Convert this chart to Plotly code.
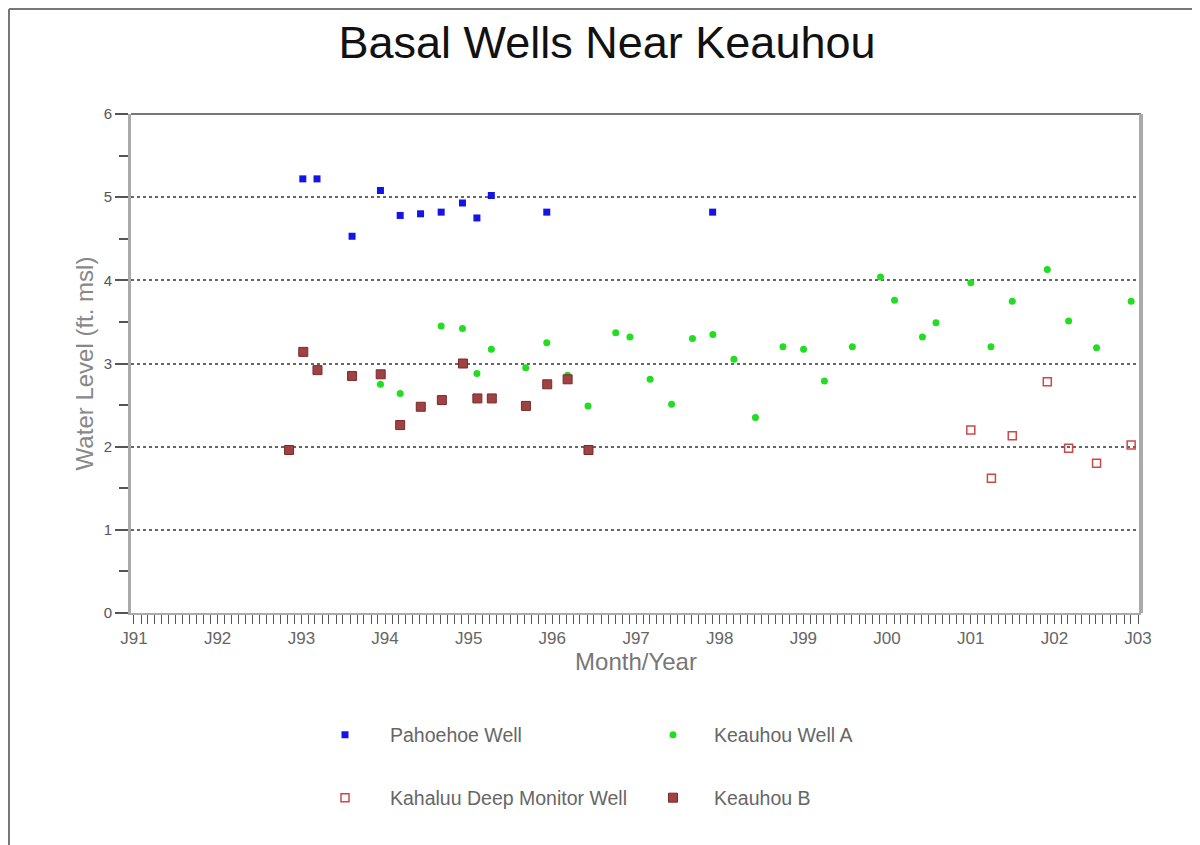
import plotly.graph_objects as go

# ---------------- data ----------------
pahoehoe_dates = ["1993-01-07", "1993-03-10", "1993-08-10", "1993-12-12", "1994-03-08",
                  "1994-06-05", "1994-09-03", "1994-12-05", "1995-02-06", "1995-04-10",
                  "1995-12-08", "1997-12-01"]
pahoehoe_levels = [5.22, 5.22, 4.53, 5.08, 4.78, 4.80, 4.82, 4.93, 4.75, 5.02, 4.82, 4.82]

wellA_dates = ["1993-12-12", "1994-03-08", "1994-09-03", "1994-12-05", "1995-02-06",
               "1995-04-10", "1995-09-07", "1995-12-08", "1996-03-08", "1996-06-05",
               "1996-10-04", "1996-12-05", "1997-03-03", "1997-06-05", "1997-09-04",
               "1997-12-02", "1998-03-04", "1998-06-06", "1998-10-04", "1999-01-02",
               "1999-04-03", "1999-08-03", "1999-12-04", "2000-02-03", "2000-06-04",
               "2000-08-02", "2001-01-01", "2001-03-30", "2001-07-01", "2001-12-01",
               "2002-03-04", "2002-07-04", "2002-12-02"]
wellA_levels = [2.75, 2.64, 3.45, 3.42, 2.88, 3.17, 2.95, 3.25, 2.86, 2.49,
                3.37, 3.32, 2.81, 2.51, 3.30, 3.35, 3.05, 2.35, 3.20, 3.17,
                2.79, 3.20, 4.04, 3.76, 3.32, 3.49, 3.97, 3.20, 3.75, 4.13,
                3.51, 3.19, 3.75]

kahaluu_dates = ["2001-01-01", "2001-04-01", "2001-07-01", "2001-12-01",
                 "2002-03-04", "2002-07-04", "2002-12-02"]
kahaluu_levels = [2.20, 1.62, 2.13, 2.78, 1.98, 1.80, 2.02]

wellB_dates = ["1992-11-08", "1993-01-09", "1993-03-12", "1993-08-10", "1993-12-13",
               "1994-03-08", "1994-06-06", "1994-09-06", "1994-12-07", "1995-02-08",
               "1995-04-12", "1995-09-08", "1995-12-10", "1996-03-08", "1996-06-07"]
wellB_levels = [1.96, 3.14, 2.92, 2.85, 2.87, 2.26, 2.48, 2.56, 3.00, 2.58,
                2.58, 2.49, 2.75, 2.81, 1.96]

year_ticks = ["%d-01-01" % y for y in range(1991, 2004)]
year_labels = ["J91", "J92", "J93", "J94", "J95", "J96", "J97", "J98", "J99",
               "J00", "J01", "J02", "J03"]
level_ticks = [0, 1, 2, 3, 4, 5, 6]

FONT = "Liberation Sans, Arial, sans-serif"

# page body adds an 8px margin, so the figure is 8px smaller on each axis
W, H = 1192, 837
ML, MT, MR, MB = 123, 106, 59, 232
PW, PH = W - ML - MR, H - MT - MB   # 1010 x 499

def px_x(sx):   # screen x -> paper x
    return (sx - 8 - ML) / PW

def px_y(sy):   # screen y -> paper y
    return (H - MB - (sy - 8)) / PH

fig = go.Figure()
fig.add_trace(go.Scatter(x=pahoehoe_dates, y=pahoehoe_levels, mode="markers",
                         name="Pahoehoe Well", legend="legend",
                         marker=dict(symbol="square", size=7, color="#1414e8")))
fig.add_trace(go.Scatter(x=wellA_dates, y=wellA_levels, mode="markers",
                         name="Keauhou Well A", legend="legend2",
                         marker=dict(symbol="circle", size=7, color="#22dd22")))
fig.add_trace(go.Scatter(x=kahaluu_dates, y=kahaluu_levels, mode="markers",
                         name="Kahaluu Deep Monitor Well", legend="legend3",
                         marker=dict(symbol="square-open", size=8, color="#cc4848",
                                     line=dict(width=1.5, color="#cc4848"))))
fig.add_trace(go.Scatter(x=wellB_dates, y=wellB_levels, mode="markers",
                         name="Keauhou B", legend="legend4",
                         marker=dict(symbol="square", size=9, color="#a04242",
                                     line=dict(width=1, color="#7a2a2a"))))

leg_font = dict(family=FONT, size=19.5, color="#666666")
def leg(x, y, iw):
    return dict(x=x, y=y, xanchor="left", yanchor="middle", orientation="h",
                font=leg_font, itemwidth=iw, bgcolor="rgba(0,0,0,0)", borderwidth=0)

fig.update_layout(
    width=W, height=H,
    paper_bgcolor="white", plot_bgcolor="white",
    margin=dict(l=ML, r=MR, t=MT, b=MB),
    title=dict(text="Basal Wells Near Keauhou", x=(607 - 8) / W, xref="container",
               xanchor="center", y=1 - (42 - 8) / H, yref="container", yanchor="middle",
               font=dict(family=FONT, size=45, color="#111111")),
    showlegend=True,
    legend=leg(px_x(300), px_y(735), 80),
    legend2=leg(px_x(632), px_y(735), 72),
    legend3=leg(px_x(300), px_y(798), 80),
    legend4=leg(px_x(632), px_y(798), 72),
    xaxis=dict(
        type="date", range=["1990-12-19", "2003-01-14"],
        tickvals=year_ticks, ticktext=year_labels,
        ticks="outside", ticklen=9, tickwidth=1.2, tickcolor="#555555",
        minor=dict(ticks="outside", ticklen=9, tickwidth=1.2, tickcolor="#555555",
                   dtick="M1", tick0="1991-01-01", showgrid=False),
        showgrid=False, zeroline=False,
        showline=True, linecolor="#aaaaaa", linewidth=2,
        tickfont=dict(family=FONT, size=17, color="#666666"),
        title=dict(text="Month/Year", standoff=2,
                   font=dict(family=FONT, size=24, color="#777777")),
    ),
    yaxis=dict(
        range=[0, 6], tickvals=level_ticks,
        ticks="outside", ticklen=13, tickwidth=1.5, tickcolor="#555555",
        minor=dict(ticks="outside", ticklen=9, tickwidth=1.5, tickcolor="#555555",
                   dtick=0.5, tick0=0, showgrid=False),
        showgrid=True, gridcolor="#666666", gridwidth=1.5, griddash="dot",
        zeroline=False,
        showline=True, linecolor="#aaaaaa", linewidth=3,
        tickfont=dict(family=FONT, size=15, color="#555555"),
        title=dict(text="Water Level (ft. msl)", standoff=4,
                   font=dict(family=FONT, size=24, color="#888888")),
    ),
    shapes=[
        # plot frame: top and right edges
        dict(type="line", xref="paper", yref="paper", x0=0, x1=1, y0=1, y1=1,
             line=dict(color="#777777", width=2)),
        dict(type="line", xref="paper", yref="paper", x0=1, x1=1, y0=0, y1=1,
             line=dict(color="#aaaaaa", width=4)),
        # page border: top and left edges
        dict(type="line", xref="paper", yref="paper", x0=px_x(9), x1=px_x(1200),
             y0=px_y(9), y1=px_y(9), line=dict(color="#777777", width=2)),
        dict(type="line", xref="paper", yref="paper", x0=px_x(9), x1=px_x(9),
             y0=px_y(845), y1=px_y(9), line=dict(color="#777777", width=2)),
    ],
)

fig.write_html("out.html")
